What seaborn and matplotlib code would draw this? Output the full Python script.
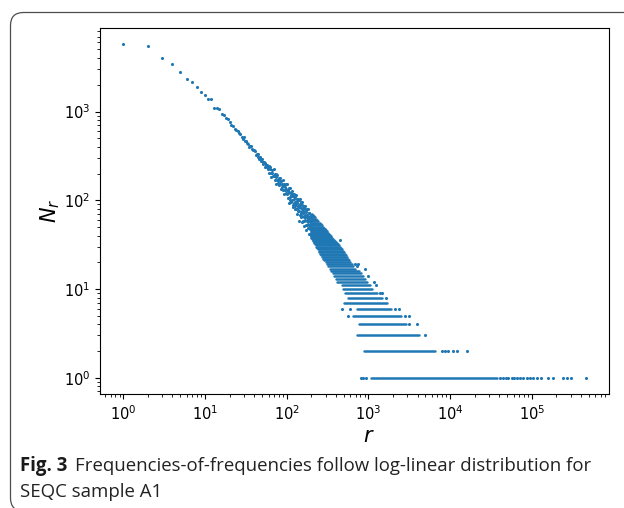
import numpy as np
import pandas as pd
import matplotlib
matplotlib.use("Agg")
import matplotlib.pyplot as plt
import seaborn as sns
from matplotlib import font_manager as fm
from matplotlib.path import Path
from matplotlib.patches import PathPatch
from matplotlib.transforms import IdentityTransform

# ---- data ----
# N_r for r = 1 .. 200 (every r present in this range)
Nr_head = [5740, 5530, 4050, 3415, 2820, 2330, 2140, 1910, 1660, 1540,
           1400, 1400, 1105, 1095, 1070, 940, 910, 853, 830, 757,
           712, 693, 636, 625,
           600, 575, 556, 515, 494, 517, 470, 462, 437, 430, 402, 413, 405, 380, 372, 368,
           355, 326, 332, 335, 308, 289, 308, 291, 278, 295, 270, 256, 267, 265, 236, 249, 236, 248, 225,
           242, 204, 224, 240, 204, 182, 221, 202, 187, 223,
           188, 171, 196, 200, 154, 183, 167, 194, 157, 170,
           176, 149, 165, 177, 151, 135, 166, 152, 141, 168,
           143, 130, 150, 153, 118, 142, 129, 151, 122, 133,
           130, 117, 153, 122, 105, 131, 137, 93, 123, 108, 136, 100, 114, 122, 95, 112, 126, 100, 85, 117,
           113, 89, 104, 117, 93, 79, 109, 96, 87, 114, 91, 79, 99, 103, 70, 93, 82, 103, 76, 87,
           101, 59, 89, 75, 102, 69, 83, 90, 65, 82, 96, 71, 57, 89, 76, 66, 95, 71, 59, 80,
           81, 59, 74, 86, 64, 51, 80, 68, 60, 86, 64, 53, 73, 77, 46, 68, 58, 79, 53, 64,
           62, 54, 79, 59, 49, 66, 71, 42, 63, 53, 72, 49, 59, 64, 47, 59, 68, 51, 41, 64, 55]

# r > 200: dense runs of points at integer levels N (first r, last r of the run)
band_N = [1, 2, 3, 4, 5, 6, 7, 8, 9, 10, 11, 12, 13, 14, 15, 16, 17, 18, 19, 20,
          21, 22, 23, 24, 25, 26, 27, 28, 29, 30, 31, 32, 33, 34, 35, 36, 37, 38, 39, 40,
          41, 42, 43, 44, 45, 46, 47, 48, 49, 50, 52, 54, 56, 58, 60, 62, 64, 66, 68, 70]
band_rlo = [1067, 884, 726, 768, 648, 726, 503, 562, 517, 489, 471, 413, 405, 385, 365, 345, 335, 325, 312, 300,
            290, 280, 272, 265, 258, 252, 246, 241, 236, 231, 227, 223, 219, 215, 211, 208, 204, 201, 201, 201,
            201, 201, 201, 201, 201, 201, 201, 201, 201, 201, 201, 201, 201, 201, 201, 201, 201, 201, 201, 201]
band_rhi = [37800, 6530, 4160, 2885, 2506, 1891, 1675, 1489, 1274, 1122, 1047, 970, 910, 867, 820, 770, 689, 656, 627, 600,
            579, 560, 543, 526, 511, 497, 484, 471, 460, 449, 436, 423, 411, 400, 390, 380, 370, 361, 353, 345,
            337, 330, 323, 316, 309, 303, 297, 292, 286, 281, 271, 262, 253, 245, 237, 230, 222, 215, 209, 204]

# isolated points outside the dense runs
sparse_r = [805, 867, 935, 40800, 44000, 47900, 51600, 56700, 60600, 65300, 71700, 77400, 86700,
            95100, 102600, 114800, 128500, 159300, 183400, 243000, 267500, 301700, 460600,
            7890, 8660, 9510, 10760, 12050, 15970,
            4930, 3140, 3940, 568, 2806, 3113, 482, 601, 2148, 2350, 1642, 1406, 1479,
            449, 690, 750, 730, 905, 1000, 1180, 1250]
sparse_N = [1, 1, 1, 1, 1, 1, 1, 1, 1, 1, 1, 1, 1,
            1, 1, 1, 1, 1, 1, 1, 1, 1, 1,
            2, 2, 2, 2, 2, 2,
            3, 4, 4, 5, 5, 5, 6, 6, 6, 6, 8, 9, 9,
            36, 19, 19, 18, 17, 14, 12, 11]

x_ticks = [1, 10, 100, 1000, 10000, 100000]
y_ticks = [1, 10, 100, 1000]
x_label = "$r$"
y_label = "$N_r$"
caption_bold = "Fig. 3"
caption_line1 = "Frequencies-of-frequencies follow log-linear distribution for"
caption_line2 = "SEQC sample A1"

# ---- tables ----
pts = pd.DataFrame({
    "r": list(np.arange(1, len(Nr_head) + 1)) + sparse_r,
    "N": Nr_head + sparse_N,
})
rows = []
for i, (n, lo, hi) in enumerate(zip(band_N, band_rlo, band_rhi)):
    rows.append({"r": lo, "N": n, "unit": i})
    rows.append({"r": hi, "N": n, "unit": i})
bands = pd.DataFrame(rows)

W, H = 624, 508
fig = plt.figure(figsize=(W / 100, H / 100), dpi=100)
ax = fig.add_axes([100.2 / W, (H - 394.4) / H, 508.8 / W, 366.9 / H])

blue = "#1f77b4"
sns.lineplot(data=bands, x="r", y="N", units="unit", estimator=None, sort=False,
             color=blue, linewidth=1.8, solid_capstyle="round", ax=ax, legend=False)
sns.scatterplot(data=pts, x="r", y="N", s=5, linewidth=0, color=blue, ax=ax, legend=False)
ax.set_xscale("log")
ax.set_yscale("log")
ax.set_xticks(x_ticks)
ax.set_yticks(y_ticks)
ax.tick_params(labelsize=10.5)

ax.set_xlabel(x_label, fontsize=15)
ax.set_ylabel(y_label, fontsize=15)
ax.xaxis.set_label_coords(0.528, -0.085)
ax.yaxis.set_label_coords(-0.075, 0.5)

# ---- caption ----
names = {f.name for f in fm.fontManager.ttflist}
cap_family = "Liberation Sans Narrow" if "Liberation Sans Narrow" in names else "Open Sans"
renderer = fig.canvas.get_renderer()
fs = 12.5
y1 = 1 - 471 / H
y2 = 1 - 497 / H
t0 = fig.text(20 / W, y1, caption_bold, fontsize=fs, fontweight="bold", family=cap_family,
              va="baseline", color="#1a1a1a")
bb0 = t0.get_window_extent(renderer=renderer)
t1 = fig.text((bb0.x1 + 7) / W, y1, caption_line1, fontsize=fs, family=cap_family,
              va="baseline", color="#222222")
bb1 = t1.get_window_extent(renderer=renderer)
scale = (594 - 20) / (bb1.x1 - bb0.x0)
fs2 = fs * scale
t0.set_fontsize(fs2)
bb0 = t0.get_window_extent(renderer=renderer)
t1.set_fontsize(fs2)
t1.set_x((bb0.x1 + 7 * scale) / W)
fig.text(20 / W, y2, caption_line2, fontsize=fs2, family=cap_family, va="baseline", color="#222222")

# ---- rounded frame (left side only; it continues past the right and bottom edges) ----
x0, ytop, ybot, rad = 10.5, 12.5, H + 3, 13
verts = [(W + 20, H - ytop), (x0 + rad, H - ytop), (x0, H - ytop), (x0, H - ytop - rad),
         (x0, H - ybot + rad), (x0, H - ybot), (x0 + rad, H - ybot)]
codes = [Path.MOVETO, Path.LINETO, Path.CURVE3, Path.CURVE3, Path.LINETO, Path.CURVE3, Path.CURVE3]
frame = PathPatch(Path(verts, codes), transform=IdentityTransform(), fill=False,
                  edgecolor="#4d4d4d", linewidth=0.9, clip_on=False)
fig.add_artist(frame)

fig.savefig("out.png", dpi=100)
